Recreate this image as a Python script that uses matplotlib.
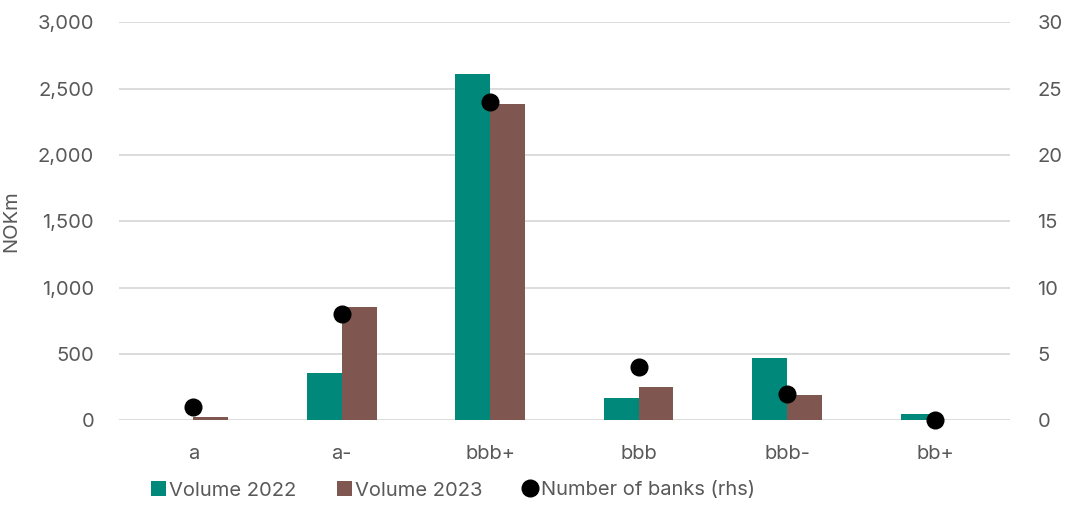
import matplotlib.pyplot as plt
import matplotlib.ticker as mticker
import numpy as np

plt.rcParams['font.family'] = ['Inter', 'DejaVu Sans']

# Volumes by rating bucket (NOKm) and number of banks
ratings = ['a', 'a-', 'bbb+', 'bbb', 'bbb-', 'bb+']
volume_2022 = [0, 355, 2610, 170, 465, 45]
volume_2023 = [25, 850, 2380, 250, 190, 0]
num_banks = [1, 8, 24, 4, 2, 0]

green = '#00897B'
brown = '#7F5650'
text_grey = '#595959'
grid_grey = '#D9D9D9'
fs = 14.5

fig = plt.figure(figsize=(10.73, 5.05), dpi=100)
ax = fig.add_axes([0.111, 0.168, 0.830, 0.788])
ax2 = ax.twinx()

x = np.arange(len(ratings))
w = 0.235
ax.bar(x - w / 2, volume_2022, width=w, color=green, label='Volume 2022', zorder=2)
ax.bar(x + w / 2, volume_2023, width=w, color=brown, label='Volume 2023', zorder=2)
ax2.plot(x, num_banks, 'o', color='black', markersize=12, linestyle='none',
         label='Number of banks (rhs)', zorder=3, clip_on=False)

ax.set_xlim(-0.5, len(ratings) - 0.5)
ax.set_ylim(0, 3000)
ax2.set_ylim(0, 30)
ax.set_yticks(np.arange(0, 3001, 500))
ax2.set_yticks(np.arange(0, 31, 5))
ax.yaxis.set_major_formatter(mticker.StrMethodFormatter('{x:,.0f}'))
ax.set_xticks(x)
ax.set_xticklabels(ratings)

ax.grid(axis='y', color=grid_grey, linewidth=1.3, zorder=0)
ax.set_axisbelow(True)
for a in (ax, ax2):
    for s in a.spines.values():
        s.set_visible(False)
    a.tick_params(length=0, labelsize=fs, labelcolor=text_grey)
ax.tick_params(axis='y', pad=18)
ax.tick_params(axis='x', pad=18)
ax2.tick_params(axis='y', pad=20)

ax.set_ylabel('NOKm', fontsize=fs, color=text_grey)
ax.yaxis.set_label_coords(-0.111, 0.5)

h1, l1 = ax.get_legend_handles_labels()
h2, l2 = ax2.get_legend_handles_labels()
fig.legend(h1 + h2, l1 + l2, loc='lower center', ncol=3, frameon=False,
           bbox_to_anchor=(0.422, -0.025), fontsize=fs, labelcolor=text_grey,
           handlelength=0.75, handleheight=0.75, handletextpad=0.15, columnspacing=2.0)

fig.savefig('out.png', dpi=100)
